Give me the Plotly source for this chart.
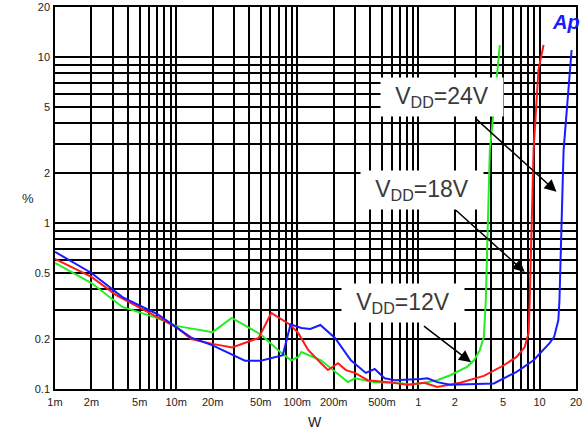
import numpy as np
import plotly.graph_objects as go

# ---- data (W vs THD+N %) ----
blue_x = [0.001, 0.002, 0.0036, 0.0069, 0.01, 0.0135, 0.02, 0.037, 0.05, 0.076, 0.088, 0.108, 0.128, 0.155,
          0.205, 0.277, 0.368, 0.436, 0.526, 0.636, 1.04, 1.19, 1.43, 1.83, 4.2, 6.47, 8.93, 12.1, 13.2,
          14.3, 14.6, 15.8, 18.4]
blue_y = [0.67, 0.50, 0.358, 0.284, 0.236, 0.203, 0.183, 0.148, 0.148, 0.16, 0.245, 0.233, 0.23, 0.243,
          0.203, 0.149, 0.125, 0.132, 0.116, 0.113, 0.115, 0.116, 0.110, 0.106, 0.108, 0.127, 0.149, 0.189,
          0.206, 0.26, 0.34, 2.75, 11.0]

red_x = [0.001, 0.002, 0.0032, 0.0069, 0.01, 0.0133, 0.02, 0.029, 0.048, 0.061, 0.088, 0.102, 0.123, 0.157,
         0.179, 0.217, 0.252, 0.299, 0.382, 0.557, 0.813, 1.12, 1.43, 2.21, 3.47, 5.07, 6.47, 7.54, 8.12,
         8.3, 8.93, 9.8, 10.8]
red_y = [0.607, 0.473, 0.368, 0.272, 0.236, 0.20, 0.187, 0.178, 0.203, 0.287, 0.243, 0.217, 0.172, 0.143,
         0.130, 0.143, 0.13, 0.125, 0.113, 0.11, 0.106, 0.109, 0.103, 0.109, 0.12, 0.139, 0.156, 0.179, 0.217,
         0.34, 2.75, 8.4, 11.8]

green_x = [0.001, 0.002, 0.0036, 0.0069, 0.01, 0.02, 0.0288, 0.05, 0.074, 0.089, 0.102, 0.108, 0.157, 0.205,
           0.262, 0.299, 0.436, 0.673, 0.86, 1.12, 1.43, 1.83, 2.52, 2.88, 3.22, 3.47, 3.54, 3.6, 3.89, 4.44, 4.7]
green_y = [0.575, 0.435, 0.312, 0.268, 0.24, 0.22, 0.268, 0.213, 0.165, 0.149, 0.156, 0.167, 0.149, 0.127,
           0.11, 0.116, 0.11, 0.109, 0.106, 0.109, 0.113, 0.121, 0.136, 0.149, 0.172, 0.206, 0.287, 0.34, 2.75,
           8.0, 11.8]

x_label_vals = [0.001, 0.002, 0.005, 0.01, 0.02, 0.05, 0.1, 0.2, 0.5, 1, 2, 5, 10, 20]
x_label_text = ["1m", "2m", "5m", "10m", "20m", "50m", "100m", "200m", "500m", "1", "2", "5", "10", "20"]
y_label_vals = [0.1, 0.2, 0.5, 1, 2, 5, 10, 20]
y_label_text = ["0.1", "0.2", "0.5", "1", "2", "5", "10", "20"]

# annotations: (label, text pos x, y, arrow tail x, y, arrow tip x, y)
labels = [
    ("V<sub>DD</sub>=24V", 1.57, 5.74, 2.88, 4.35, 13.8, 1.54),
    ("V<sub>DD</sub>=18V", 1.08, 1.58, 1.9, 1.25, 7.54, 0.507),
    ("V<sub>DD</sub>=12V", 0.753, 0.33, 1.08, 0.243, 2.72, 0.145),
]

# ---- grid values (1..9 per decade) ----
def grid_vals(lo_exp, hi_exp, extra):
    vals = []
    for e in range(lo_exp, hi_exp + 1):
        for m in range(1, 10):
            vals.append(m * 10.0 ** e)
    return vals + extra

xg = grid_vals(-3, 0, [10, 20])
yg = grid_vals(-1, 0, [10, 20])

def fmt(vals, lv, lt):
    out = []
    for v in vals:
        t = ""
        for a, b in zip(lv, lt):
            if abs(v - a) / a < 1e-6:
                t = b
        out.append(t)
    return out

fig = go.Figure()
for xs, ys, col in [(green_x, green_y, "#22ee22"), (red_x, red_y, "#ff1a1a"), (blue_x, blue_y, "#1a1aff")]:
    fig.add_trace(go.Scatter(x=xs, y=ys, mode="lines", line=dict(color=col, width=2), showlegend=False))

tickfont = dict(family="Liberation Sans, Arial, sans-serif", size=11, color="#222")
fig.update_xaxes(type="log", range=[np.log10(0.001), np.log10(20)], tickvals=xg, ticktext=fmt(xg, x_label_vals, x_label_text),
                 showgrid=True, gridcolor="black", gridwidth=1.5, showline=True, linecolor="black", linewidth=1.5,
                 mirror=True, ticks="", tickfont=tickfont, zeroline=False, ticklabelstandoff=2, automargin=False)
fig.update_yaxes(type="log", range=[np.log10(0.1), np.log10(20)], tickvals=yg, ticktext=fmt(yg, y_label_vals, y_label_text),
                 showgrid=True, gridcolor="black", gridwidth=1.5, showline=True, linecolor="black", linewidth=1.5,
                 mirror=True, ticks="", tickfont=tickfont, zeroline=False, ticklabelstandoff=1, automargin=False)

annos = []
for txt, tx, ty, ax, ay, hx, hy in labels:
    annos.append(dict(x=np.log10(hx), y=np.log10(hy), ax=np.log10(ax), ay=np.log10(ay), xref="x", yref="y",
                      axref="x", ayref="y", text="", showarrow=True, arrowhead=2, arrowsize=1.6, arrowwidth=1.5,
                      arrowcolor="black", standoff=0))
for txt, tx, ty, ax, ay, hx, hy in labels:
    annos.append(dict(x=np.log10(tx), y=np.log10(ty), xref="x", yref="y", text=txt, showarrow=False,
                      bgcolor="white", width=120, height=36,
                      font=dict(family="Liberation Sans, Arial, sans-serif", size=23, color="#3a3a3a")))
annos.append(dict(x=-0.067, y=0.5, xref="paper", yref="paper", text="%", showarrow=False, yanchor="middle",
                  font=dict(family="Liberation Sans, Arial, sans-serif", size=13, color="#222")))
annos.append(dict(x=0.499, y=-0.086, xref="paper", yref="paper", text="W", showarrow=False, yanchor="middle",
                  font=dict(family="Liberation Sans, Arial, sans-serif", size=14, color="#222")))
annos.append(dict(x=0.98, y=0.962, xref="paper", yref="paper", text="<b><i>Ap</i></b>", showarrow=False,
                  xanchor="center", yanchor="middle",
                  font=dict(family="Liberation Sans, Arial, sans-serif", size=20, color="#1a1aff")))

fig.update_layout(width=588, height=433, margin=dict(l=55, r=12, t=7, b=44),
                  paper_bgcolor="white", plot_bgcolor="white", annotations=annos, showlegend=False)
fig.write_html("out.html", config={"displayModeBar": False},
               post_script="document.body.style.margin='0';document.body.style.overflow='hidden';")
